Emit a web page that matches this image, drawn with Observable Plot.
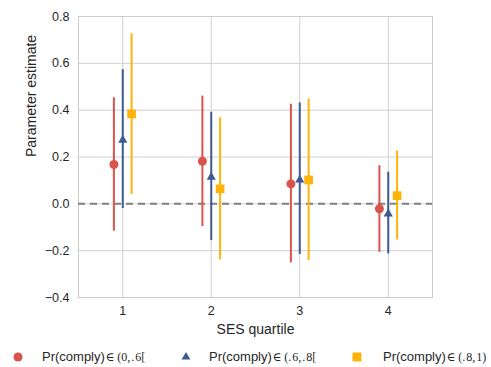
<!DOCTYPE html>
<html><head><meta charset="utf-8">
<script src="https://cdn.jsdelivr.net/npm/d3@7"></script>
<script src="https://cdn.jsdelivr.net/npm/@observablehq/plot@0.6"></script>
<style>
body{margin:0;background:#fff;font-family:"Liberation Sans",Arial,sans-serif;}
#legend{position:relative;width:491px;height:27px;font-size:13px;color:#262626}
#legend .item{position:absolute;top:8px;height:18px;line-height:18px;white-space:nowrap}
#legend svg{position:absolute;top:0}
#legend .m{font-family:"Liberation Serif","DejaVu Serif",serif;font-size:12px}
</style></head><body><div id="chart"></div><div id="legend"></div>
<script>
const quartiles = [1, 2, 3, 4];
const seriesLabels = ["(0,\u200A.\u200A6[", "(.\u200A6,\u200A.\u200A8[", "(.\u200A8,\u200A1)"];
const seriesColors = ["#d9544d", "#3b5b92", "#feb308"];
const seriesSymbols = ["circle", "triangle", "square"];
const seriesOffsets = [-0.1, 0, 0.1];
// point estimates, lower and upper bounds per series
const est0 = [0.168, 0.182, 0.085, -0.021];
const lo0  = [-0.117, -0.097, -0.252, -0.207];
const hi0  = [0.453, 0.460, 0.425, 0.163];
const est1 = [0.272, 0.114, 0.102, -0.043];
const lo1  = [-0.020, -0.157, -0.216, -0.214];
const hi1  = [0.573, 0.391, 0.431, 0.135];
const est2 = [0.384, 0.064, 0.102, 0.035];
const lo2  = [0.040, -0.239, -0.242, -0.154];
const hi2  = [0.726, 0.367, 0.448, 0.225];
const yTicks = [-0.4, -0.2, 0.0, 0.2, 0.4, 0.6, 0.8];

const markerR = [4.5, 3.4, 4.9];
const ests = [est0, est1, est2], los = [lo0, lo1, lo2], his = [hi0, hi1, hi2];
const data = [];
seriesLabels.forEach((s, i) => quartiles.forEach((q, j) => data.push({
  s: i, x: q + seriesOffsets[i], est: ests[i][j], lo: los[i][j], hi: his[i][j]
})));

const chart = Plot.plot({
  width: 491, height: 340,
  marginLeft: 78, marginRight: 59, marginTop: 16, marginBottom: 43,
  style: {fontFamily: '"Liberation Sans",Arial,sans-serif', fontSize: "12.5px", color: "#262626"},
  r: {type: "identity"},
  x: {domain: [0.5, 4.5]},
  y: {domain: [-0.4, 0.8]},
  marks: [
    Plot.gridX(quartiles, {stroke: "#d0d0d0", strokeOpacity: 1, strokeWidth: 1}),
    Plot.gridY(yTicks, {stroke: "#d0d0d0", strokeOpacity: 1, strokeWidth: 1}),
    Plot.frame({stroke: "#cccccc", strokeWidth: 1}),
    Plot.ruleY([0], {stroke: "#808080", strokeWidth: 2, strokeDasharray: "7,5"}),
    Plot.ruleX(data, {x: "x", y1: "lo", y2: "hi", stroke: d => seriesColors[d.s], strokeWidth: 2}),
    Plot.dot(data, {x: "x", y: "est", r: d => markerR[d.s], symbol: d => seriesSymbols[d.s], fill: d => seriesColors[d.s], stroke: "none"}),
    Plot.axisX(quartiles, {tickSize: 0, tickPadding: 9, tickFormat: d3.format("d"), fontSize: 12.5, label: null}),
    Plot.axisY(yTicks, {tickSize: 0, tickPadding: 9, tickFormat: d3.format(".1f"), fontSize: 12.5, label: null}),
    Plot.text(["SES quartile"], {frameAnchor: "bottom", dy: 36, fontSize: 14, lineAnchor: "bottom"}),
    Plot.text(["Parameter estimate"], {frameAnchor: "left", dx: -47, rotate: -90, fontSize: 14})
  ]
});
document.getElementById("chart").appendChild(chart);

const legend = document.getElementById("legend");
const symX = [18, 186, 357], txtX = [42, 209, 383];
const legendArea = [64, 34, 80];
seriesLabels.forEach((lab, i) => {
  const item = document.createElement("div");
  item.className = "item";
  item.style.left = (symX[i] - 8) + "px";
  const sym = d3.create("svg").attr("width", 16).attr("height", 18);
  sym.append("path").attr("transform", "translate(8,9)")
    .attr("d", d3.symbol(d3["symbol" + seriesSymbols[i][0].toUpperCase() + seriesSymbols[i].slice(1)], legendArea[i])())
    .attr("fill", seriesColors[i]);
  item.appendChild(sym.node());
  legend.appendChild(item);
  const t = document.createElement("div");
  t.className = "item";
  t.style.left = txtX[i] + "px";
  t.innerHTML = "Pr(comply)<span class='m'>\u200A\u2208\u2009" + lab + "</span>";
  legend.appendChild(t);
});
</script></body></html>
